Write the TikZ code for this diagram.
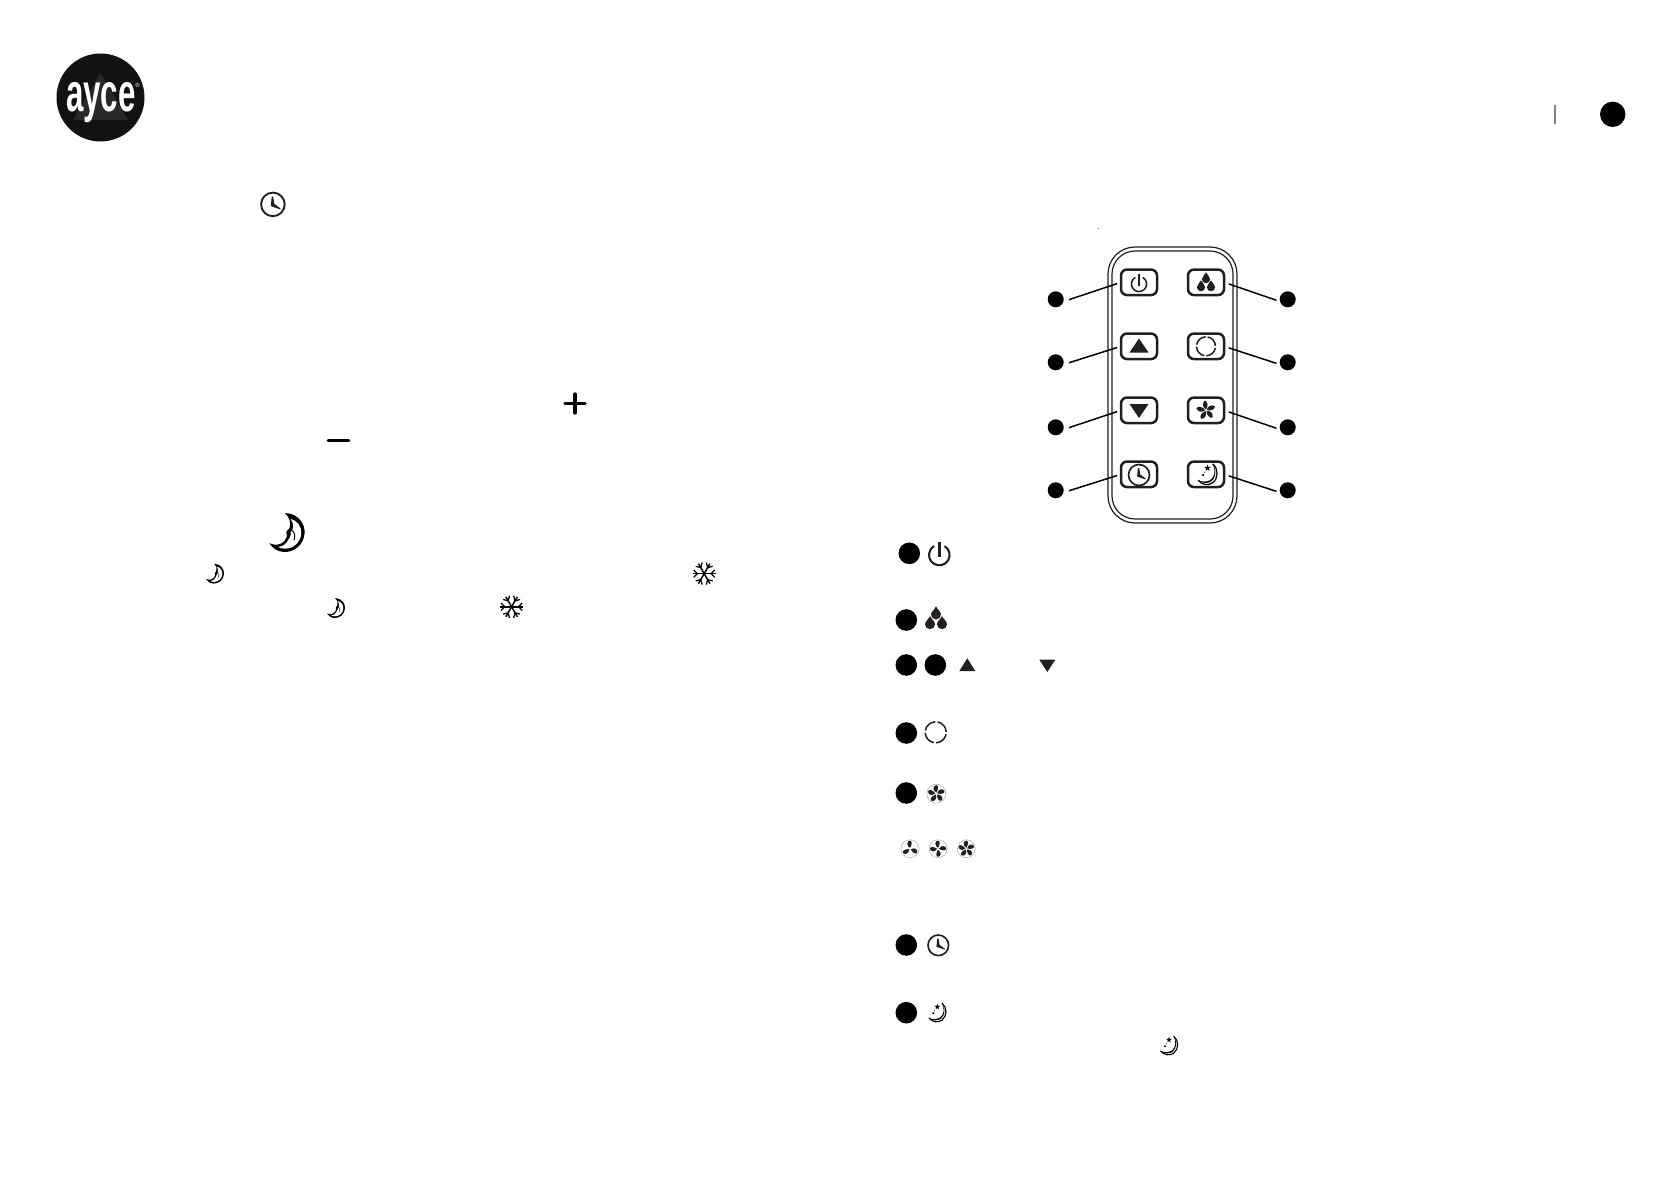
\documentclass[tikz,border=0pt]{standalone}
\usepackage{fontspec}
\setmainfont{Liberation Sans}
\usetikzlibrary{calc}
\definecolor{ink}{HTML}{231F20}
\tikzset{
  x=1pt,y=-1pt,
  numdot/.style={circle,fill=black,draw=none,minimum size=#1,inner sep=0pt,outer sep=0pt},
  numdot/.default=21.6pt,
  calldot/.style={circle,fill=black,draw=none,minimum size=16pt,inner sep=0pt,outer sep=0pt},
  btn/.style={draw=ink,line width=2.5pt,rounded corners=6pt,minimum width=36pt,minimum height=25.5pt,inner sep=0pt,outer sep=0pt,fill=white},
  lead/.style={draw=black,line width=1.5pt},
  pics/powericon/.style={code={
    \draw[ink,line width=#1*.2pt] (-60:#1) arc[start angle=-60,end angle=240,radius=#1];
    \draw[ink,line width=#1*.26pt] (0,-#1*1.3) -- (0,#1*.2);
  }},
  pics/drops/.style={code={
    \foreach \dx/\dy in {0/-.55,-.6/.42,.6/.42}{
      \fill[ink,shift={(\dx*#1,\dy*#1)}] (0,-.62*#1) .. controls (.12*#1,-.3*#1) and (.5*#1,-.1*#1) .. (.5*#1,.2*#1)
        arc[start angle=0,end angle=180,radius=.5*#1] .. controls (-.5*#1,-.1*#1) and (-.12*#1,-.3*#1) .. (0,-.62*#1) -- cycle;
    }
  }},
  pics/ringicon/.style={code={
    \foreach \a in {10,100,190,280}
      \draw[ink,line width=1.5pt] (\a:#1) arc[start angle=\a,end angle=\a+78,radius=#1];
  }},
  pics/clockicon/.style={code={
    \draw[ink,line width=#1*.16pt] (0,0) circle[radius=#1];
    \fill[ink] (-.1*#1,-.66*#1) -- (.02*#1,-.66*#1) -- (.12*#1,-.05*#1) -- (.66*#1,.36*#1) -- (.6*#1,.42*#1) -- (-.18*#1,.14*#1) -- cycle;
  }},
  pics/fanicon/.style args={#1/#2}{code={
    \draw[gray!70,line width=.5pt] (0,0) circle[radius=#1];
    \pgfmathsetmacro{\st}{360/#2}
    \foreach \k in {1,...,#2}{
      \fill[ink,rotate=\k*\st] (0,-.1*#1) .. controls (-.48*#1,-.4*#1) and (-.3*#1,-.88*#1) .. (0,-.9*#1)
        .. controls (.3*#1,-.88*#1) and (.2*#1,-.4*#1) .. (0,-.1*#1) -- cycle;
    }
  }},
  pics/moonicon/.style={code={
    \begin{scope}[scale=#1]
    \fill[black,even odd rule]
      (-.1,-1) .. controls (.6,-.98) and (.95,-.4) .. (.9,.05)
      .. controls (.85,.65) and (.35,1.02) .. (-.15,1)
      .. controls (-.5,.98) and (-.75,.8) .. (-.9,.55)
      .. controls (-.6,.68) and (-.3,.65) .. (-.12,.42)
      .. controls (-.08,.3) and (.05,.2) .. (0,.1)
      .. controls (-.1,0) and (.02,-.15) .. (.12,-.2)
      .. controls (.22,-.45) and (.15,-.75) .. (-.1,-1) -- cycle;
    \fill[white]
      (.18,-.7) .. controls (.52,-.62) and (.76,-.3) .. (.73,.05)
      .. controls (.7,.5) and (.32,.84) .. (-.12,.83)
      .. controls (-.3,.82) and (-.4,.78) .. (-.45,.74)
      .. controls (-.25,.72) and (-.05,.62) .. (.05,.4)
      .. controls (.12,.28) and (.2,.2) .. (.2,.08)
      .. controls (.15,.02) and (.18,-.05) .. (.27,-.12)
      .. controls (.36,-.3) and (.3,-.55) .. (.18,-.7) -- cycle;
    \draw[black,line width=#1*.05pt] (.2,-.15) .. controls (.4,-.05) and (.45,.2) .. (.35,.4);
    \end{scope}
  }},
  pics/starmoon/.style={code={
    \begin{scope}[scale=#1]
    \draw[black,line width=#1*.12pt,line cap=round]
      (.5,-1) .. controls (1.05,-.55) and (1.05,.35) .. (.5,.78)
      .. controls (.05,1.1) and (-.55,.98) .. (-.88,.55);
    \fill[black]
      (.5,-1) .. controls (.78,-.45) and (.72,.22) .. (.28,.52)
      .. controls (-.05,.72) and (-.55,.72) .. (-.88,.55)
      .. controls (-.55,.86) and (.05,.9) .. (.4,.62)
      .. controls (.85,.25) and (.85,-.55) .. (.5,-1) -- cycle;
    \fill[black] (0,-.95) -- (.075,-.72) -- (.31,-.72) -- (.12,-.58) -- (.19,-.35) -- (0,-.49)
       -- (-.19,-.35) -- (-.12,-.58) -- (-.31,-.72) -- (-.075,-.72) -- cycle;
    \fill[black] (-.42,.05) circle[radius=.12];
    \fill[black] (-.3,-.22) circle[radius=.05];
    \end{scope}
  }},
  pics/snowicon/.style={code={
    \foreach \a in {0,60,...,300}{
      \draw[black,line width=#1*.13pt,rotate=\a] (0,0) -- (#1,0);
      \draw[black,line width=#1*.11pt,rotate=\a] (.6*#1,0) -- (.92*#1,.32*#1) (.6*#1,0) -- (.92*#1,-.32*#1);
    }
  }},
}
\begin{document}
\begin{tikzpicture}
\useasboundingbox (0,0) rectangle (1678,1191);
% logo
\node[circle,fill=black!93,minimum size=88pt,inner sep=0pt] (logo) at (100.5,97.5) {};
\fill[black!84] (100.5,73) -- (128,120) -- (73,120) -- cycle;
\node[text=white,font=\fontsize{54}{54}\selectfont\bfseries,inner sep=0pt] (logotext) at (101,103) {\scalebox{.58}[1]{ayce}};
\node[text=white,font=\fontsize{6}{6}\selectfont,inner sep=0pt] (logoreg) at (137.5,85) {®};
% page number
\draw[gray,line width=1.5pt] (1555,104.7) -- (1555,124);
\node[numdot=25.4pt] (pagedot) at (1612.7,114.3) {};
% left page icons
\pic at (272.9,204.4) {clockicon=11.8};
\draw[black,line width=3.2pt,line cap=round] (565,403.5) -- (585,403.5) (575,394) -- (575,413);
\draw[black,line width=2.8pt,line cap=round] (328,440.5) -- (349,440.5);
\pic at (287,532.5) {moonicon=19.5};
\pic at (215,573.6) {moonicon=10};
\pic at (336,608) {moonicon=10};
\pic at (704.2,573.6) {snowicon=11.5};
\pic at (511.6,606.8) {snowicon=11.5};
% speck above remote
\fill[black!65] (1097.8,227.5) rectangle (1098.8,228.5);
% remote body
\draw[draw=ink,line width=1.2pt,rounded corners=27pt] (1108,247) rectangle (1237,523);
\draw[draw=ink,line width=1.2pt,rounded corners=23pt] (1112,251) rectangle (1233,519);
% buttons
\node[btn] (bl1) at (1139,282.3) {};
\node[btn] (bl2) at (1139,346.3) {};
\node[btn] (bl3) at (1139,410.3) {};
\node[btn] (bl4) at (1139,474.3) {};
\node[btn] (br1) at (1206,282.3) {};
\node[btn] (br2) at (1206,346.3) {};
\node[btn] (br3) at (1206,410.3) {};
\node[btn] (br4) at (1206,474.3) {};
% icons on buttons
\pic at (1139,284) {powericon=7.6};
\pic at (1206,282) {drops=8.3};
\fill[ink] (1139,338.5) -- (1148.5,352.5) -- (1129.5,352.5) -- cycle;
\fill[ink] (1129.5,404) -- (1148.5,404) -- (1139,418) -- cycle;
\pic at (1206,346.3) {ringicon=9.5};
\pic at (1139,475) {clockicon=10.5};
\pic at (1207.5,474.5) {starmoon=10.5};
\begin{scope}[shift={(1206,410.3)}]
\foreach \k in {0,72,...,288}{
  \fill[ink,rotate=\k] (0,-.8) .. controls (-4,-3) and (-4,-7.5) .. (-1,-9.8) .. controls (2,-8.8) and (2.4,-4) .. (0,-.8) -- cycle;
}
\end{scope}
% callout dots
\node[calldot] (dl1) at (1055.7,299.3) {};
\node[calldot] (dl2) at (1055.7,362.3) {};
\node[calldot] (dl3) at (1055.7,427.3) {};
\node[calldot] (dl4) at (1055.7,490.3) {};
\node[calldot] (dr1) at (1287.7,299.3) {};
\node[calldot] (dr2) at (1287.7,362.3) {};
\node[calldot] (dr3) at (1287.7,427.3) {};
\node[calldot] (dr4) at (1287.7,490.3) {};
\foreach \n in {1,2,3,4}{
  \draw[lead,shorten <=5.6pt,shorten >=4pt] ([yshift=-2.1pt]dl\n.east) -- (bl\n.west);
  \draw[lead,shorten <=3.4pt,shorten >=5pt] ([yshift=-2.1pt]dr\n.west) -- (br\n.east);
}
% legend
\node[numdot] (n1) at (909.3,553.3) {};
\pic at (939.3,555) {powericon=10.3};
\node[numdot] (n2) at (906.3,620) {};
\pic at (936,618) {drops=10};
\node[numdot] (n3) at (906.3,665) {};
\node[numdot] (n4) at (935.3,665) {};
\fill[ink] (967.3,658.3) -- (975.3,671) -- (959.3,671) -- cycle;
\fill[ink] (1039.3,659.7) -- (1055.3,659.7) -- (1047.3,672) -- cycle;
\node[numdot] (n5) at (906.3,733) {};
\pic at (935.7,732.3) {ringicon=10.5};
\node[numdot] (n6) at (906.3,793) {};
\pic at (936.3,793.7) {fanicon={9.5/5}};
\pic at (910,848.7) {fanicon={9/3}};
\pic at (938,848.7) {fanicon={9/4}};
\pic at (966.3,848.7) {fanicon={9/5}};
\node[numdot] (n7) at (906.3,945) {};
\pic at (938.3,945.3) {clockicon=10.3};
\node[numdot] (n8) at (906.3,1012.7) {};
\pic at (937.3,1012.7) {starmoon=9.5};
\pic at (1169,1045.7) {starmoon=9.5};
\end{tikzpicture}
\end{document}
